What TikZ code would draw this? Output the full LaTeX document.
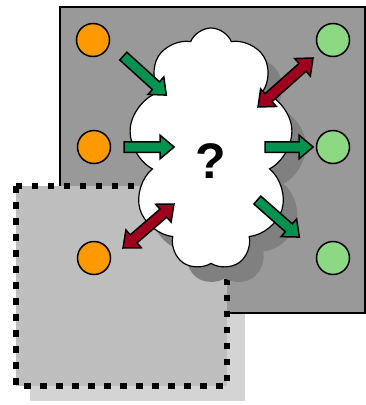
\documentclass[tikz,border=0pt]{standalone}
\usepackage{fontspec}
\setsansfont{Liberation Sans}
\usetikzlibrary{shapes.symbols,shapes.arrows,calc}
\definecolor{boxgray}{HTML}{999999}
\definecolor{boxlight}{HTML}{BEBEBE}
\definecolor{stipple}{HTML}{D4D4D4}
\definecolor{shadowgray}{HTML}{808080}
\definecolor{inorange}{HTML}{FF9900}
\definecolor{outgreen}{HTML}{8CD883}
\definecolor{arrgreen}{HTML}{00924F}
\definecolor{arrred}{HTML}{A0001E}

\tikzset{
  puff/.style={cloud, cloud puffs=9, cloud puff arc=135, cloud ignores aspect, minimum width=164pt, minimum height=242pt, inner sep=0pt},
  port/.style={circle, draw, line width=1.5pt, minimum size=33pt, inner sep=0pt},
  oneway/.style={single arrow, draw, line width=1.5pt, inner sep=4.5pt, single arrow head extend=6.5pt, single arrow tip angle=80, sloped, fill=arrgreen},
  twoway/.style={double arrow, draw, line width=1.5pt, inner sep=4.5pt, double arrow head extend=6.5pt, double arrow tip angle=80, sloped, fill=arrred}
}
% block arrow stretched between two named points
\newcommand{\blockarrow}[3]{\path let \p1=($(#3)-(#2)$) in (#2) -- node[#1, minimum height={veclen(\x1,\y1)}] {} (#3);}

\begin{document}
\begin{tikzpicture}[x=1pt, y=-1pt]
\useasboundingbox (0,0) rectangle (366,405);

% boxes
\fill[stipple] (30,200) rectangle (245,401);
\draw[fill=boxgray, line width=1.5pt] (60,7) rectangle (365,313);
\draw[fill=boxlight, line width=6.5pt, dash pattern=on 6.5pt off 9.5pt] (16,186) rectangle (227,386);

% cloud
\node[puff, fill=shadowgray] (cloudshade) at (225,164) {};
\node[puff, draw, fill=white, line width=1.2pt] (cloud) at (211,149) {};
\node[font=\sffamily\bfseries\fontsize{50}{50}\selectfont] (qmark) at (211,161) {?};

% ports
\node[port, fill=inorange] (in1) at (93,40) {};
\node[port, fill=inorange] (in2) at (94,147) {};
\node[port, fill=inorange] (in3) at (94,258) {};
\node[port, fill=outgreen] (out1) at (333,40) {};
\node[port, fill=outgreen] (out2) at (333,147) {};
\node[port, fill=outgreen] (out3) at (333,258) {};

% arrow ends
\coordinate (a1) at (121,54);  \coordinate (b1) at (164,93);
\coordinate (a2) at (121,147); \coordinate (b2) at (171,147);
\coordinate (a3) at (258,107); \coordinate (b3) at (313,58);
\coordinate (a4) at (262,147); \coordinate (b4) at (310,147);
\coordinate (a5) at (255,198); \coordinate (b5) at (297,235);
\coordinate (a6) at (123,248); \coordinate (b6) at (174,204);

\blockarrow{oneway}{a1}{b1}
\blockarrow{oneway}{a2}{b2}
\blockarrow{twoway}{a3}{b3}
\blockarrow{oneway}{a4}{b4}
\blockarrow{oneway}{a5}{b5}
\blockarrow{twoway}{a6}{b6}
\end{tikzpicture}
\end{document}
